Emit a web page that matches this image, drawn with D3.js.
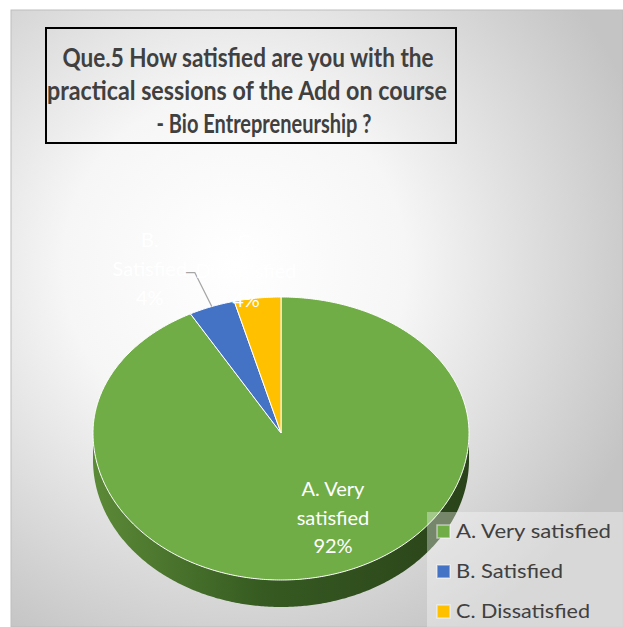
<!DOCTYPE html>
<html>
<head>
<meta charset="utf-8">
<script src="https://d3js.org/d3.v7.min.js"></script>
<style>
  body { margin: 0; background: #ffffff; }
  text { font-family: Lato, "Open Sans", sans-serif; }
</style>
</head>
<body>
<script>
// ---- data
const categories = ["A. Very satisfied", "B. Satisfied", "C. Dissatisfied"];
const percents = [92, 4, 4];
const colors = ["#70ad47", "#4472c4", "#ffc000"];
const titleLines = [
  "Que.5 How satisfied are you with the",
  "practical sessions of the Add on course",
  "- Bio Entrepreneurship ?"
];

const width = 623, height = 627;

// pie geometry (perspective ellipse: back half flatter than front half)
const cx = 281, cy = 433, rx = 188, ryBack = 136, ryFront = 147, depth = 27;

function edgePoint(a, k = 1) {
  let c = Math.cos(a);
  let ry = c > 0 ? ryBack : ryFront;
  return [cx + rx * k * Math.sin(a), cy - ry * k * c];
}

function arcPoints(a0, a1) {
  let n = Math.max(2, Math.ceil(Math.abs(a1 - a0) / 0.01));
  return d3.range(n + 1).map(i => edgePoint(a0 + (a1 - a0) * i / n));
}

let svg = d3.select("body").append("svg")
  .attr("width", width)
  .attr("height", height);

let defs = svg.append("defs");

let bg = defs.append("radialGradient")
  .attr("id", "bgGrad")
  .attr("gradientUnits", "userSpaceOnUse")
  .attr("cx", 235).attr("cy", 265).attr("r", 430);
bg.append("stop").attr("offset", 0).attr("stop-color", "#ffffff");
bg.append("stop").attr("offset", 0.4).attr("stop-color", "#f6f6f6");
bg.append("stop").attr("offset", 1).attr("stop-color", "#c4c4c4");

let side = defs.append("linearGradient")
  .attr("id", "sideGrad")
  .attr("x1", 0).attr("x2", 1).attr("y1", 0).attr("y2", 0);
side.append("stop").attr("offset", 0).attr("stop-color", "#5b8a37");
side.append("stop").attr("offset", 0.45).attr("stop-color", "#365a21");
side.append("stop").attr("offset", 1).attr("stop-color", "#2a431a");

// background panel
svg.append("rect")
  .attr("x", 11).attr("y", 10)
  .attr("width", width - 11).attr("height", height - 10)
  .attr("fill", "url(#bgGrad)")
  .attr("stroke", "#bdbdbd")
  .attr("stroke-width", 1);

// title box
svg.append("rect")
  .attr("x", 46).attr("y", 28)
  .attr("width", 410).attr("height", 115)
  .attr("fill", "none")
  .attr("stroke", "#000000")
  .attr("stroke-width", 2);

const titleWidths = [371, 400, 215];
const titleCenters = [248, 247, 264];
svg.selectAll(".title")
  .data(titleLines)
  .join("text")
    .attr("class", "title")
    .attr("x", (d, i) => titleCenters[i])
    .attr("y", (d, i) => 67 + i * 33)
    .attr("text-anchor", "middle")
    .attr("font-size", 27)
    .attr("font-weight", "bold")
    .attr("fill", "#404040")
    .attr("textLength", (d, i) => titleWidths[i])
    .attr("lengthAdjust", "spacingAndGlyphs")
    .text(d => d);

// ---- pie
let data = categories.map((c, i) => ({name: c, value: percents[i], color: colors[i]}));
let pie = d3.pie().sort(null).value(d => d.value);
let arcs = pie(data);
let line = d3.line();

// side wall (front half only)
let front = arcPoints(Math.PI / 2, 3 * Math.PI / 2);
let frontLow = front.map(p => [p[0], p[1] + depth]).reverse();
svg.append("path")
  .attr("d", line(front.concat(frontLow)) + "Z")
  .attr("fill", "url(#sideGrad)");

// top faces
svg.selectAll(".slice")
  .data(arcs)
  .join("path")
    .attr("class", "slice")
    .attr("d", d => line([[cx, cy]].concat(arcPoints(d.startAngle, d.endAngle))) + "Z")
    .attr("fill", d => d.data.color)
    .attr("stroke", "#ffffff")
    .attr("stroke-width", 1)
    .attr("stroke-linejoin", "round");

// labels
function pct(d) { return d.data.value + "%"; }

// A inside
let aArc = arcs[0];
let aLines = ["A. Very", "satisfied", pct(aArc)];
svg.selectAll(".labA")
  .data(aLines)
  .join("text")
    .attr("class", "labA")
    .attr("x", cx + 52)
    .attr("y", (d, i) => cy + 63 + i * 28.5)
    .attr("text-anchor", "middle")
    .attr("font-size", 20)
    .attr("fill", "#ffffff")
    .text(d => d);

// B outside with leader line
let bArc = arcs[1];
let bMid = (bArc.startAngle + bArc.endAngle) / 2;
let bEdge = edgePoint(bMid);
svg.append("polyline")
  .attr("points", [[bEdge[0] - 27, bEdge[1] - 34], [bEdge[0] - 17, bEdge[1] - 34], bEdge].join(" "))
  .attr("fill", "none")
  .attr("stroke", "#a6a6a6")
  .attr("stroke-width", 1.3);
svg.selectAll(".labB")
  .data(["B.", "Satisfied", pct(bArc)])
  .join("text")
    .attr("class", "labB")
    .attr("x", bEdge[0] - 62)
    .attr("y", (d, i) => bEdge[1] - 60 + i * 29)
    .attr("text-anchor", "middle")
    .attr("font-size", 20)
    .attr("fill", "#ffffff")
    .text(d => d);

// C label above its slice
let cArc = arcs[2];
svg.selectAll(".labC")
  .data(["C.", "Dissatisfied", pct(cArc)])
  .join("text")
    .attr("class", "labC")
    .attr("x", cx - 35)
    .attr("y", (d, i) => cy - 184 + i * 29)
    .attr("text-anchor", "middle")
    .attr("font-size", 20)
    .attr("fill", "#ffffff")
    .text(d => d);

// ---- legend
svg.append("rect")
  .attr("x", 427).attr("y", 512)
  .attr("width", width - 427).attr("height", height - 512)
  .attr("fill", "#ffffff")
  .attr("fill-opacity", 0.35);

const legendWidths = [155, 107, 134];
let legend = svg.selectAll(".leg")
  .data(data)
  .join("g")
    .attr("class", "leg")
    .attr("transform", (d, i) => `translate(437, ${525 + i * 40})`);
legend.append("rect")
  .attr("width", 13).attr("height", 13)
  .attr("fill", d => d.color)
  .attr("stroke", "#ffffff")
  .attr("stroke-opacity", 0.5)
  .attr("stroke-width", 1.5);
legend.append("text")
  .attr("x", 19)
  .attr("y", 13)
  .attr("font-size", 20)
  .attr("fill", "#404040")
  .attr("textLength", (d, i) => legendWidths[i])
  .attr("lengthAdjust", "spacingAndGlyphs")
  .text(d => d.name);
</script>
</body>
</html>
